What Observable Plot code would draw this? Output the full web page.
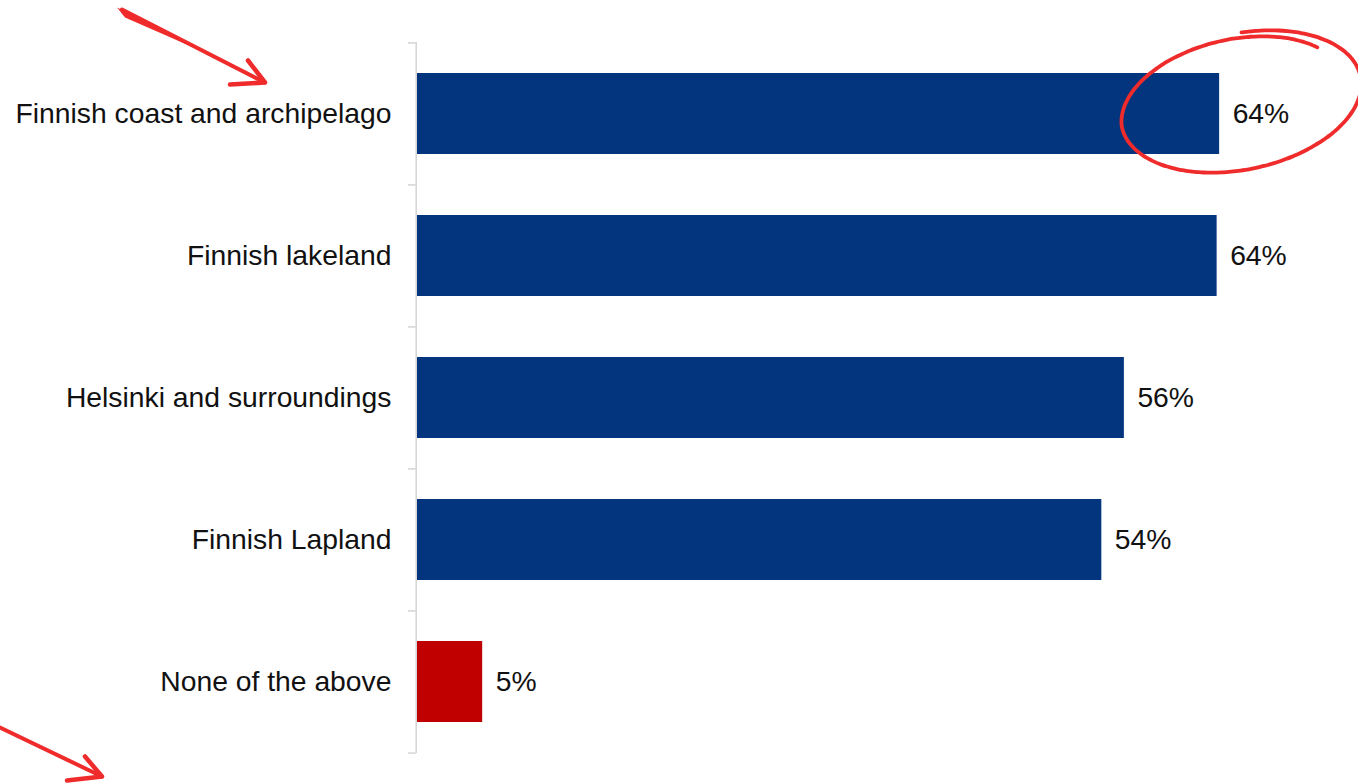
<!DOCTYPE html>
<html><head><meta charset="utf-8">
<script src="https://cdn.jsdelivr.net/npm/d3@7"></script>
<script src="https://cdn.jsdelivr.net/npm/@observablehq/plot@0.6"></script>
<style>
body{margin:0;background:#fff;font-family:"Liberation Sans",Arial,sans-serif}
#chart{position:relative;width:1358px;height:784px}
</style>
</head><body><div id="chart"></div>
<script>
const categories = ["Finnish coast and archipelago","Finnish lakeland","Helsinki and surroundings","Finnish Lapland","None of the above"];
const values = [64.0, 63.8, 56.4, 54.6, 5.2];
const valueLabels = ["64%","64%","56%","54%","5%"];
const kinds = ["region","region","region","region","none"];

const data = categories.map((c,i)=>({category:c, value:values[i], label:valueLabels[i], kind:kinds[i]}));

const plot = Plot.plot({
  width: 1358, height: 784,
  marginLeft: 417, marginRight: 1, marginTop: 42, marginBottom: 31,
  style: {fontFamily: '"Liberation Sans", Arial, sans-serif', background: "#fff"},
  x: {domain: [0, 75], axis: null},
  y: {domain: categories, paddingInner: 0.43, paddingOuter: 0.215, label: null},
  color: {domain: ["region","none"], range: ["#03357f","#c00000"]},
  marks: [
    Plot.ruleX([0], {stroke: "#d4d4d4", strokeWidth: 1.5, dx: -1.3}),
    Plot.ruleY(categories, {y: d=>d, x1: -0.72, x2: -0.1, stroke: "#d4d4d4", strokeWidth: 1.5, dy: -71.1}),
    Plot.ruleY([categories[categories.length-1]], {y: d=>d, x1: -0.72, x2: -0.1, stroke: "#d4d4d4", strokeWidth: 1.5, dy: 71.1}),
    Plot.barX(data, {x: "value", y: "category", fill: "kind"}),
    Plot.text(data, {x: "value", y: "category", text: "label", dx: 13, textAnchor: "start", fontSize: 28.3, fill: "#111"}),
    Plot.axisY({tickSize: 0, tickPadding: 26, fontSize: 28.3, fill: "#111", textAnchor: "end"})
  ]
});
document.getElementById("chart").appendChild(plot);

// hand-drawn red annotations, anchored to the chart scales
const xs = plot.scale("x"), ys = plot.scale("y");
const ns = "http://www.w3.org/2000/svg";
const red = "#ef2b2b";
function addPath(d, w, fill) {
  const p = document.createElementNS(ns, "path");
  p.setAttribute("d", d);
  p.setAttribute("fill", fill || "none");
  if (!fill) { p.setAttribute("stroke", red); p.setAttribute("stroke-width", w); p.setAttribute("stroke-linecap", "round"); p.setAttribute("stroke-linejoin", "round"); }
  plot.appendChild(p);
}
// ellipse around first value label
const ex = xs.apply(values[0]) + 22, ey = ys.apply(categories[0]) + ys.bandwidth/2 - 12;
{
  const pts = [];
  const rot = -12 * Math.PI/180;
  const t0 = -0.66, t1 = -2*Math.PI - 1.45;
  const n = 180;
  for (let k = 0; k <= n; k++) {
    const t = t0 + (t1 - t0) * k/n;
    const g = 0.89 + 0.11 * Math.min(1, k/(n*0.35));
    const px = 122 * g * Math.cos(t), py = 68 * g * Math.sin(t);
    pts.push([ex + px*Math.cos(rot) - py*Math.sin(rot), ey + px*Math.sin(rot) + py*Math.cos(rot)]);
  }
  addPath(d3.line().curve(d3.curveBasis)(pts), 3.8);
}
// top arrow
const y0 = ys.apply(categories[0]) + ys.bandwidth/2;
addPath(`M122,${y0-104} L265,${y0-31}`, 4);
addPath(`M117,${y0-106} L125,${y0-96} L205,${y0-61} Z`, 0, red);
addPath(`M248,${y0-53} L265,${y0-31} L230,${y0-29}`, 4.5);
// bottom arrow
const yl = ys.apply(categories[4]) + ys.bandwidth/2;
addPath(`M0,${yl+46} L102,${yl+95}`, 4);
addPath(`M85,${yl+75} L102,${yl+95} L67,${yl+99}`, 4.5);
</script>
</body></html>
